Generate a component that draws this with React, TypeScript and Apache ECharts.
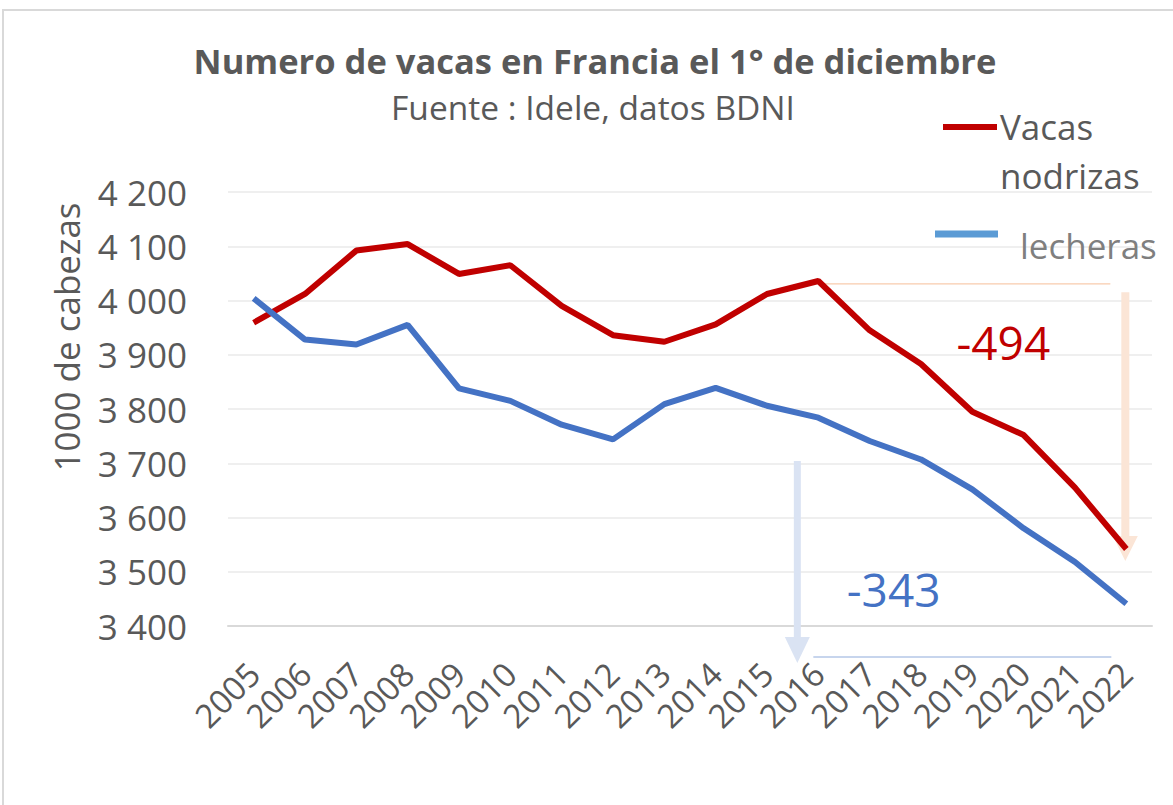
import React, { useEffect, useRef } from "react";
import * as echarts from "echarts";

const years = ["2005", "2006", "2007", "2008", "2009", "2010", "2011", "2012", "2013", "2014", "2015", "2016", "2017", "2018", "2019", "2020", "2021", "2022"];
const nodrizas = [3959, 4012, 4092, 4104, 4049, 4065, 3990, 3936, 3924, 3956, 4012, 4036, 3945, 3883, 3795, 3752, 3655, 3542];
const lecheras = [4004, 3928, 3919, 3955, 3838, 3815, 3771, 3744, 3809, 3839, 3806, 3784, 3741, 3707, 3652, 3580, 3518, 3441];
const yTicks = [3400, 3500, 3600, 3700, 3800, 3900, 4000, 4100, 4200];

const titleText = "Numero de vacas en Francia el 1° de diciembre";
const subtitleText = "Fuente : Idele, datos BDNI";
const yName = "1000 de cabezas";
const nameNodrizas = "Vacas\nnodrizas";
const nameLecheras = "lecheras";

const FONT = "'Open Sans', sans-serif";
const RED = "#c00000";
const BLUE = "#4472c4";
const GRAY = "#595959";

export default function App() {
  const ref = useRef<HTMLDivElement>(null);
  useEffect(() => {
    if (!ref.current) return;
    const chart = echarts.init(ref.current, null, { renderer: "svg" });
    const fmt = (v: number) => `${Math.floor(v / 1000)} ${String(v % 1000).padStart(3, "0")}`;
    chart.setOption({
      animation: false,
      textStyle: { fontFamily: FONT },
      title: [
        { text: titleText, left: 590, top: 38, textAlign: "center", textStyle: { fontFamily: FONT, fontSize: 34.5, fontWeight: "bold", color: GRAY } },
        { text: subtitleText, left: 588, top: 85, textAlign: "center", textStyle: { fontFamily: FONT, fontSize: 33.5, fontWeight: "normal", color: GRAY } },
      ],
      legend: { show: false },
      grid: { left: 228, right: 21, top: 192, bottom: 179, containLabel: false },
      xAxis: {
        type: "category",
        data: years,
        boundaryGap: true,
        axisLine: { lineStyle: { color: "#d9d9d9", width: 2 } },
        axisTick: { show: false },
        axisLabel: { interval: 0, rotate: 45, margin: 42, fontSize: 33, color: GRAY, fontFamily: FONT },
      },
      yAxis: {
        type: "value",
        min: yTicks[0],
        max: yTicks[yTicks.length - 1],
        interval: 100,
        axisLine: { show: false },
        axisTick: { show: false },
        splitLine: { lineStyle: { color: "#efefef", width: 2 } },
        axisLabel: { formatter: fmt, fontSize: 35, color: GRAY, margin: 41, fontFamily: FONT },
      },
      series: [
        { name: "Vacas nodrizas", type: "line", data: nodrizas, symbol: "none", lineStyle: { color: RED, width: 6 }, itemStyle: { color: RED }, z: 3 },
        { name: "lecheras", type: "line", data: lecheras, symbol: "none", lineStyle: { color: BLUE, width: 6 }, itemStyle: { color: BLUE }, z: 3 },
      ],
    });

    const px = (i: number, v: number) => chart.convertToPixel({ gridIndex: 0 }, [i, v]) as number[];
    const i16 = years.indexOf("2016");
    const i22 = years.indexOf("2022");
    const x16 = px(i16, 3400)[0];
    const x22 = px(i22, 3400)[0];
    const axisY = px(0, 3400)[1];
    const redDrop = nodrizas[i16] - nodrizas[i22];
    const blueDrop = lecheras[i16] - lecheras[i22];

    const oa = x22 - 1;
    const oTop = px(i22, 4015)[1];
    const oHead = px(i22, 3566)[1];
    const oTip = px(i22, 3520)[1];
    const ba = x16 - 21;
    const bTop = px(i16, 3704)[1];
    const bHead = axisY + 11;
    const bTip = axisY + 37;

    chart.setOption({
      graphic: [
        { type: "rect", shape: { x: 3, y: 10, width: 1200, height: 830 }, style: { fill: "none", stroke: "#d9d9d9", lineWidth: 2 }, silent: true },
        { type: "line", shape: { x1: x16, y1: px(i16, nodrizas[i16])[1] + 3, x2: x22 - 16, y2: px(i16, nodrizas[i16])[1] + 3 }, style: { stroke: "#f8cbad", lineWidth: 1.2 }, z: 1 },
        { type: "line", shape: { x1: x16 - 5, y1: axisY + 31, x2: x22 - 15, y2: axisY + 31 }, style: { stroke: "#b4c7e7", lineWidth: 1.5 }, z: 1 },
        { type: "rect", shape: { x: oa - 4, y: oTop, width: 8, height: oHead - oTop }, style: { fill: "#fbe5d6" }, z: 1 },
        { type: "polygon", shape: { points: [[oa - 12.5, oHead], [oa + 12.5, oHead], [oa, oTip]] }, style: { fill: "#fbe5d6" }, z: 1 },
        { type: "rect", shape: { x: ba - 3.5, y: bTop, width: 7, height: bHead - bTop }, style: { fill: "#dae3f3" }, z: 1 },
        { type: "polygon", shape: { points: [[ba - 12.5, bHead], [ba + 12.5, bHead], [ba, bTip]] }, style: { fill: "#dae3f3" }, z: 1 },
        { type: "text", x: px(14, 3400)[0] + 31, y: px(14, 3923)[1], style: { text: `-${redDrop}`, fill: RED, fontSize: 46, fontFamily: FONT, align: "center", verticalAlign: "middle" }, z: 5 },
        { type: "text", x: px(12, 3400)[0] + 24, y: px(12, 3468)[1], style: { text: `-${blueDrop}`, fill: BLUE, fontSize: 46, fontFamily: FONT, align: "center", verticalAlign: "middle" }, z: 5 },
        { type: "text", x: 66, y: 337, rotation: Math.PI / 2, style: { text: yName, fill: GRAY, fontSize: 35, fontFamily: FONT, align: "center", verticalAlign: "middle" } },
        { type: "line", shape: { x1: 943, y1: 127, x2: 997, y2: 127 }, style: { stroke: RED, lineWidth: 6 } },
        { type: "text", x: 1000, y: 102, style: { text: nameNodrizas, fill: GRAY, fontSize: 35, lineHeight: 49, fontFamily: FONT, align: "left", verticalAlign: "top" } },
        { type: "line", shape: { x1: 935, y1: 234, x2: 998, y2: 234 }, style: { stroke: "#5b9bd5", lineWidth: 7 } },
        { type: "text", x: 1020, y: 245, style: { text: nameLecheras, fill: "#7f7f7f", fontSize: 35, fontFamily: FONT, align: "left", verticalAlign: "middle" } },
      ],
    });
    return () => chart.dispose();
  }, []);
  return <div ref={ref} style={{ position: "absolute", left: 0, top: 0, width: 1173, height: 805, background: "#ffffff" }} />;
}
